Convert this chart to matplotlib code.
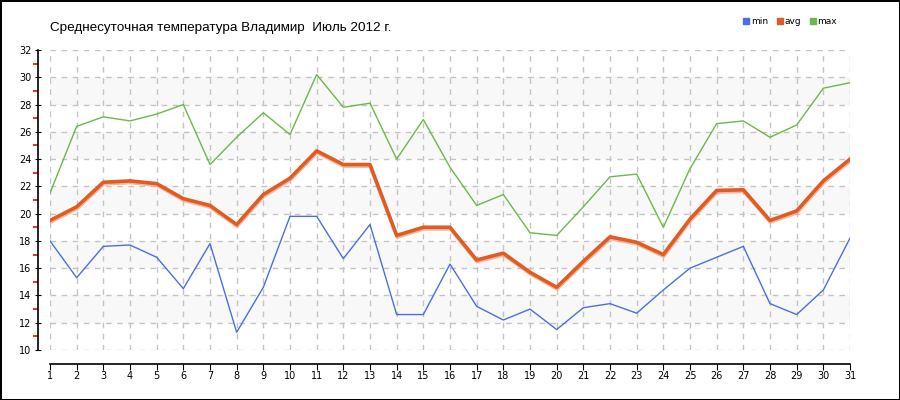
import numpy as np
import matplotlib.pyplot as plt
from matplotlib.ticker import MultipleLocator
from matplotlib.lines import Line2D
import matplotlib.patheffects as pe

# daily temperatures, Vladimir, July 2012
days = list(range(1, 32))
t_min = [18.0, 15.3, 17.6, 17.7, 16.8, 14.5, 17.8, 11.3, 14.6, 19.8, 19.8, 16.7, 19.2, 12.6, 12.6, 16.3,
         13.2, 12.2, 13.0, 11.5, 13.1, 13.4, 12.7, 14.4, 16.0, 16.8, 17.6, 13.4, 12.6, 14.4, 18.2]
t_avg = [19.5, 20.5, 22.3, 22.4, 22.2, 21.1, 20.6, 19.2, 21.4, 22.6, 24.6, 23.6, 23.6, 18.4, 19.0, 19.0,
         16.6, 17.1, 15.7, 14.6, 16.5, 18.3, 17.9, 17.0, 19.6, 21.7, 21.75, 19.5, 20.2, 22.4, 24.0]
t_max = [21.5, 26.4, 27.1, 26.8, 27.3, 28.0, 23.6, 25.6, 27.4, 25.8, 30.2, 27.8, 28.1, 24.0, 26.9, 23.4,
         20.6, 21.4, 18.6, 18.4, 20.5, 22.7, 22.9, 19.0, 23.3, 26.6, 26.8, 25.6, 26.5, 29.2, 29.6]
title = 'Среднесуточная температура Владимир  Июль 2012 г.'

c_min = '#4a6fe3'
c_avg = '#e05c22'
c_max = '#6cb84a'

plt.rcParams['font.family'] = ['DejaVu Sans']
fig = plt.figure(figsize=(9, 4), dpi=100)
fig.patch.set_edgecolor('black')
fig.patch.set_linewidth(2)
ax = fig.add_axes([50/900, 50/400, 800/900, 300/400])

# shaded bands
for lo in range(12, 32, 4):
    ax.axhspan(lo, lo+2, color='#f8f8f8', zorder=0, lw=0)

ax.plot(days, t_min, color=c_min, lw=1, zorder=3)
ax.plot(days, t_max, color=c_max, lw=1, zorder=3)
ax.plot(days, t_avg, color=c_avg, lw=2.6, zorder=4,
        path_effects=[pe.SimpleLineShadow(offset=(0.3, -1.2), shadow_color='#f0a888', alpha=0.8), pe.Normal()])

ax.set_xlim(1, 31)
ax.set_ylim(10, 32)
ax.set_xticks(days)
ax.set_yticks(range(10, 33, 2))
ax.set_yticks(range(11, 32, 2), minor=True)
ax.grid(True, which='major', color='#c4c4c4', ls=(0, (4, 4)), lw=1)
ax.set_axisbelow(True)

for s in ['top', 'right']:
    ax.spines[s].set_visible(False)
ax.spines['left'].set_position(('outward', 9))
ax.spines['bottom'].set_position(('outward', 10))
ax.spines['left'].set_linewidth(1.2)
ax.spines['bottom'].set_linewidth(1.2)
ax.tick_params(axis='y', which='major', direction='inout', length=5, labelsize=7, pad=2)
ax.tick_params(axis='y', which='minor', direction='out', length=3.5, color='red', width=1.2)
ax.tick_params(axis='x', which='major', direction='out', length=4, labelsize=7, pad=1)

fig.text(50/900, 1-28/400, title, fontsize=9.7, family='Liberation Sans', va='center', ha='left')

handles = [Line2D([], [], ls='', marker='s', ms=5, color=c, label=l)
           for c, l in zip([c_min, c_avg, c_max], ['min', 'avg', 'max'])]
fig.legend(handles=handles, loc='center right', bbox_to_anchor=(845/900, 1-22/400), ncol=3,
           frameon=False, fontsize=6.5, handlelength=0.6, handletextpad=0.2, columnspacing=1.0)

fig.savefig('out.png', dpi=100)
